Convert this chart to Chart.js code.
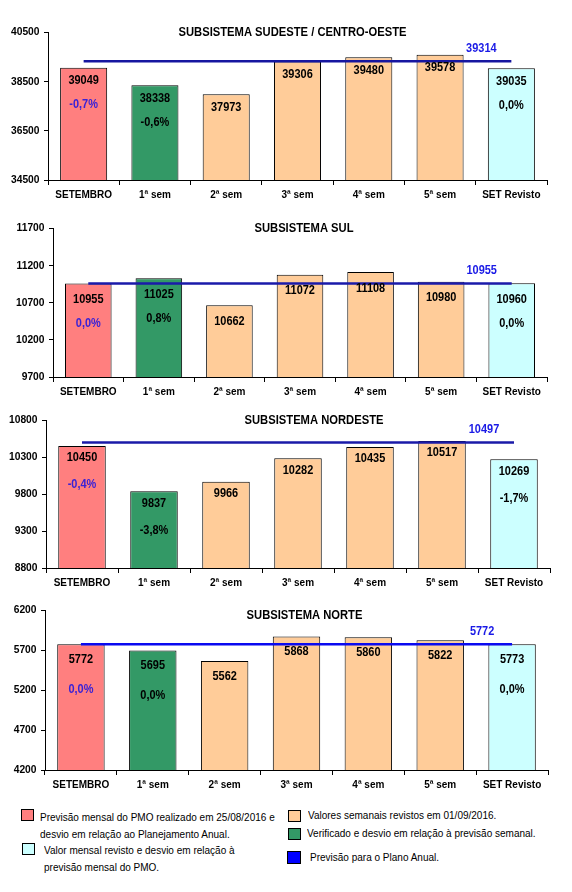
<!DOCTYPE html>
<html><head><meta charset="utf-8">
<script src="https://cdn.jsdelivr.net/npm/chart.js@4/dist/chart.umd.min.js"></script>
<style>
html,body{margin:0;padding:0;background:#fff;}
#wrap{position:relative;width:572px;height:892px;background:#fff;overflow:hidden;font-family:"Liberation Sans",Arial,sans-serif;}
canvas{position:absolute;left:0;}
.lg{position:absolute;font-size:11.5px;color:#000;white-space:nowrap;line-height:12px;transform:scaleX(0.87);transform-origin:0 50%;}
.sq{position:absolute;width:11px;height:10px;border:1px solid #000;}
</style></head>
<body><div id="wrap">
<canvas id="c1" width="572" height="210" style="top:0"></canvas>
<canvas id="c2" width="572" height="195" style="top:210px"></canvas>
<canvas id="c3" width="572" height="190" style="top:405px"></canvas>
<canvas id="c4" width="572" height="200" style="top:595px"></canvas>
<div class="sq" style="left:21px;top:809px;background:#ff7f7f"></div>
<div class="lg" style="left:40px;top:811px">Previsão mensal do PMO realizado em 25/08/2016 e</div>
<div class="lg" style="left:40px;top:828px">desvio em relação ao Planejamento Anual.</div>
<div class="sq" style="left:22px;top:843px;background:#ccffff"></div>
<div class="lg" style="left:44px;top:844px">Valor mensal revisto e desvio em relação à</div>
<div class="lg" style="left:44px;top:861px">previsão mensal do PMO.</div>
<div class="sq" style="left:288px;top:810px;background:#ffcc99"></div>
<div class="lg" style="left:308px;top:809px">Valores semanais revistos em 01/09/2016.</div>
<div class="sq" style="left:288px;top:828px;background:#339966"></div>
<div class="lg" style="left:307px;top:827px">Verificado e desvio em relação à previsão semanal.</div>
<div class="sq" style="left:287px;top:851px;width:12px;height:11px;background:#0000ff"></div>
<div class="lg" style="left:310px;top:851px">Previsão para o Plano Anual.</div>
</div>
<script>
const categories = ['SETEMBRO','1ª sem','2ª sem','3ª sem','4ª sem','5ª sem','SET Revisto'];
const titles = ['SUBSISTEMA SUDESTE / CENTRO-OESTE','SUBSISTEMA SUL','SUBSISTEMA NORDESTE','SUBSISTEMA NORTE'];

const sudesteValues = [39049,38338,37973,39306,39480,39578,39035];
const sudestePlano = 39314;
const sudesteDesvios = ['-0,7%','-0,6%',null,null,null,null,'0,0%'];
const sudesteTicks = [34500,36500,38500,40500];

const sulValues = [10955,11025,10662,11072,11108,10980,10960];
const sulPlano = 10955;
const sulDesvios = ['0,0%','0,8%',null,null,null,null,'0,0%'];
const sulTicks = [9700,10200,10700,11200,11700];

const nordesteValues = [10450,9837,9966,10282,10435,10517,10269];
const nordestePlano = 10497;
const nordesteDesvios = ['-0,4%','-3,8%',null,null,null,null,'-1,7%'];
const nordesteTicks = [8800,9300,9800,10300,10800];

const norteValues = [5772,5695,5562,5868,5860,5822,5773];
const nortePlano = 5772;
const norteDesvios = ['0,0%','0,0%',null,null,null,null,'0,0%'];
const norteTicks = [4200,4700,5200,5700,6200];

const barColors = ['#ff7f7f','#339966','#ffcc99','#ffcc99','#ffcc99','#ffcc99','#ccffff'];

const FAM = '"Liberation Sans", Arial, sans-serif';
const SQ = 0.87; // horizontal squeeze of the original's text

const panels = [
  {id:'c1',h:210,area:{l:48,r:547,t:32,b:180},title:titles[0],values:sudesteValues,plano:sudestePlano,desvios:sudesteDesvios,ticks:sudesteTicks,line:'#1616a0',vdy:13,pdy:24,tdx:-5,tdy:0},
  {id:'c2',h:195,area:{l:53,r:547,t:18,b:167},title:titles[1],values:sulValues,plano:sulPlano,desvios:sulDesvios,ticks:sulTicks,line:'#1a1aaa',vdy:16,pdy:24,tdx:4,tdy:0},
  {id:'c3',h:190,area:{l:46,r:550,t:15,b:163},title:titles[2],values:nordesteValues,plano:nordestePlano,desvios:nordesteDesvios,ticks:nordesteTicks,line:'#1a1aa8',vdy:12,pdy:27,tdx:16,tdy:0},
  {id:'c4',h:200,area:{l:45,r:548,t:15,b:175},title:titles[3],values:norteValues,plano:nortePlano,desvios:norteDesvios,ticks:norteTicks,line:'#0a0af0',vdy:15,pdy:30,tdx:8,tdy:5}
];

function txt(ctx,s,x,y,size,color,align){
  ctx.save();
  ctx.font='bold '+size+'px '+FAM;
  ctx.fillStyle=color; ctx.textAlign=align||'center'; ctx.textBaseline='middle';
  ctx.translate(x,y); ctx.scale(SQ,1); ctx.fillText(s,0,0);
  ctx.restore();
}

const labelPlugin = {
  id:'panelLabels',
  afterDraw(chart){
    const o = chart.options.plugins.panelLabels;
    const ctx = chart.ctx, area = chart.chartArea;
    const xs = chart.scales.x, ys = chart.scales.y;
    // axis tick labels from the library's scales
    o.ticks.forEach(v=>{ txt(ctx,String(v),area.left-8.5,ys.getPixelForValue(v),11.8,'#000','right'); });
    chart.data.labels.forEach((lab,i)=>{ txt(ctx,lab,xs.getPixelForValue(i),area.bottom+15,11.5,'#000'); });
    // title
    txt(ctx,o.title,(area.left+area.right)/2+o.tdx,area.top+o.tdy,12.9,'#000');
    // bar labels
    const bars = chart.getDatasetMeta(0).data;
    const vals = chart.data.datasets[0].data;
    bars.forEach((el,i)=>{
      txt(ctx,String(vals[i]),el.x,el.y+o.vdy,12.6,'#000');
      const d=o.desvios[i];
      if(d) txt(ctx,d,el.x,el.y+o.vdy+o.pdy,12.6,i===0?'#3a22d6':'#000');
    });
    const pts = chart.getDatasetMeta(1).data;
    const last = pts[pts.length-1];
    txt(ctx,String(o.plano),last.x-30,last.y-13,12.6,'#1a1ae6');
  }
};

panels.forEach(p=>{
  new Chart(document.getElementById(p.id),{
    type:'bar',
    data:{labels:categories,datasets:[
      {type:'bar',data:p.values,backgroundColor:barColors,borderColor:'#000',borderWidth:1,barPercentage:0.66,categoryPercentage:1,order:2},
      {type:'line',data:categories.map(()=>p.plano),borderColor:p.line,borderWidth:2.5,pointRadius:0,fill:false,order:1}
    ]},
    options:{
      responsive:false,animation:false,devicePixelRatio:1,
      layout:{padding:{left:0,right:572-p.area.r,top:p.area.t,bottom:0}},
      plugins:{legend:{display:false},tooltip:{enabled:false},title:{display:false},
        panelLabels:{title:p.title,desvios:p.desvios,plano:p.plano,ticks:p.ticks,vdy:p.vdy,pdy:p.pdy,tdx:p.tdx,tdy:p.tdy}},
      scales:{
        x:{grid:{display:true,drawOnChartArea:false,drawTicks:true,tickLength:5,color:'#000',offset:true},
           border:{display:true,color:'#000',width:1},
           ticks:{display:false},
           afterFit:s=>{s.height=p.h-p.area.b;}},
        y:{min:p.ticks[0],max:p.ticks[p.ticks.length-1],
           grid:{display:true,drawOnChartArea:false,drawTicks:true,tickLength:4,color:'#000'},
           border:{display:true,color:'#000',width:1},
           ticks:{display:false},
           afterBuildTicks:s=>{s.ticks=p.ticks.map(v=>({value:v}));},
           afterFit:s=>{s.width=p.area.l;}}
      }
    },
    plugins:[labelPlugin]
  });
});
</script>
</body></html>
